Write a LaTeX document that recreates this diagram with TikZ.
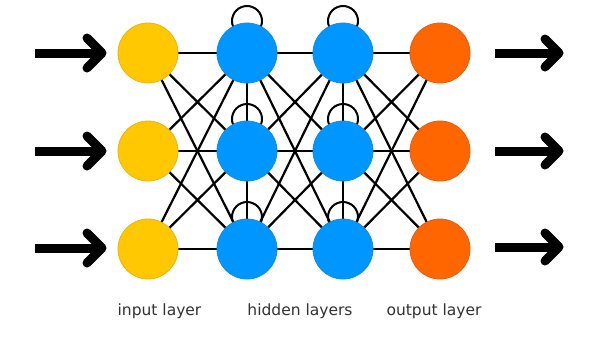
\documentclass[tikz,border=0pt]{standalone}
\usepackage{fontspec}
\setmainfont{DejaVu Sans}
\usetikzlibrary{backgrounds,calc}
\definecolor{inyel}{RGB}{255,200,0}
\definecolor{inyelb}{RGB}{235,180,20}
\definecolor{hidblu}{RGB}{0,150,255}
\definecolor{hidblub}{RGB}{20,140,230}
\definecolor{outor}{RGB}{255,102,0}
\definecolor{outorb}{RGB}{230,95,20}
\definecolor{labgray}{RGB}{50,50,50}
\begin{document}
\begin{tikzpicture}[x=1pt,y=-1pt,
  neuron/.style={circle,minimum size=60pt,inner sep=0pt,line width=0.8pt},
  inneuron/.style={neuron,fill=inyel,draw=inyelb},
  hidneuron/.style={neuron,fill=hidblu,draw=hidblub},
  outneuron/.style={neuron,fill=outor,draw=outorb},
  link/.style={line width=2.2pt,black},
  selfloop/.style={line width=2pt,black},
  shaft/.style={line width=9pt,black,line cap=butt},
  chev/.style={line width=9pt,black,line cap=round,line join=round},
  lab/.style={font=\fontsize{15.5}{18}\selectfont,text=labgray,anchor=base,inner sep=0pt}
]
\useasboundingbox (0,0) rectangle (598,338);

% nodes
\foreach \r/\y in {1/53,2/151,3/249}{
  \node[inneuron]  (i\r) at (148,\y) {};
  \node[hidneuron] (h\r) at (247,\y) {};
  \node[hidneuron] (g\r) at (343,\y) {};
  \node[outneuron] (o\r) at (440,\y) {};
}

\begin{scope}[on background layer]
  \fill[white] (0,0) rectangle (598,338);
  \foreach \a in {1,2,3}{
    \foreach \b in {1,2,3}{
      \draw[link] (i\a.center) -- (h\b.center);
      \draw[link] (h\a.center) -- (g\b.center);
      \draw[link] (g\a.center) -- (o\b.center);
    }
  }
  \draw[link] (h1.center) -- (h2.center);
  \draw[link] (h2.center) -- (h3.center);
  \draw[link] (g1.center) -- (g2.center);
  \draw[link] (g2.center) -- (g3.center);
  \foreach \n in {h1,h2,h3,g1,g2,g3}{
    \draw[selfloop] ($(\n.center)+(0,-32)$) circle[radius=15pt];
  }
\end{scope}

% input arrows
\foreach \r/\y in {1/53,2/151,3/248}{
  \coordinate (ls\r) at (35,\y);
  \coordinate (lt\r) at (102,\y);
  \draw[shaft] (ls\r) -- ($(lt\r)+(-2,0)$);
  \draw[chev] ($(lt\r)+(-15,-15)$) -- (lt\r) -- ($(lt\r)+(-15,15)$);
}
% output arrows
\foreach \r/\y in {1/53,2/151,3/247}{
  \coordinate (rs\r) at (495,\y);
  \coordinate (rt\r) at (559,\y);
  \draw[shaft] (rs\r) -- ($(rt\r)+(-2,0)$);
  \draw[chev] ($(rt\r)+(-14,-14)$) -- (rt\r) -- ($(rt\r)+(-14,14)$);
}

% labels
\node[lab] (lin)  at (159.5,315) {input layer};
\node[lab] (lhid) at (300,315) {hidden layers};
\node[lab] (lout) at (434,315) {output layer};
\end{tikzpicture}
\end{document}
